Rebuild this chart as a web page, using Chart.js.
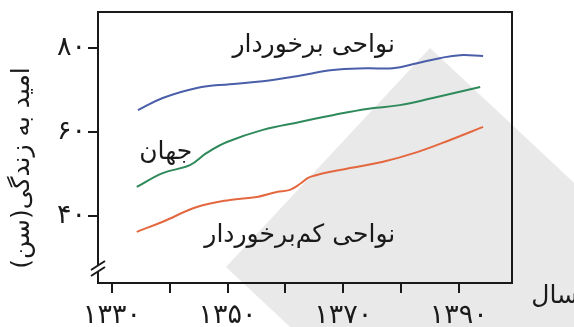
<!DOCTYPE html>
<html><head><meta charset="utf-8">
<script src="https://cdn.jsdelivr.net/npm/chart.js@4/dist/chart.umd.min.js"></script>
<style>html,body{margin:0;padding:0;background:#fff;}#wrap{width:574px;height:327px;}</style>
</head><body><div id="wrap"><canvas id="c" width="574" height="327"></canvas></div>
<script>
// ---- data ----
const developedYears  = [1334.5,1338.8,1344.7,1350.4,1356.1,1362.0,1368.2,1374.1,1378.6,1382.8,1386.7,1390.2,1394.2];
const developedValues = [65.2,68.1,70.5,71.4,72.1,73.3,74.8,75.2,75.2,76.4,77.6,78.3,78.1];
const worldYears  = [1334.3,1338.8,1343.5,1346.4,1349.9,1356.1,1362.5,1368.2,1374.1,1379.8,1385.5,1393.7];
const worldValues = [46.9,50.2,52.1,55.0,57.6,60.5,62.4,64.0,65.5,66.4,68.1,70.7];
const lessYears  = [1334.3,1338.8,1344.7,1350.4,1355.1,1358.5,1360.8,1362.5,1364.3,1371.2,1376.9,1382.8,1388.5,1394.2];
const lessValues = [36.2,38.6,42.1,43.8,44.5,45.7,46.2,47.6,49.3,51.4,52.9,55.2,58.1,61.2];
const seriesNames = ['نواحی برخوردار','جهان','نواحی کم\u200cبرخوردار'];
const xTickValues = [1330,1340,1350,1360,1370,1380,1390];
const xTickLabels = {1330:'۱۳۳۰',1350:'۱۳۵۰',1370:'۱۳۷۰',1390:'۱۳۹۰'};
const yTickValues = [40,60,80];
const yTickLabels = {40:'۴۰',60:'۶۰',80:'۸۰'};
const yTitle = 'امید به زندگی(سن)';
const xTitle = 'سال';

// ---- styling ----
const FONT = "'DejaVu Sans', sans-serif";
const colors = ['#4a5ea9','#2f8a5b','#e4683f'];
const labelAnchors = [[1364.9,80.7],[1339.3,55.2],[1362.5,35.4]];

const pts = (xs, ys) => xs.map((x,i)=>({x, y: ys[i]}));

const decor = {
  id:'decor',
  beforeDraw(chart){
    const ctx = chart.ctx;
    ctx.save();
    ctx.fillStyle = '#fff';
    ctx.fillRect(0,0,chart.width,chart.height);
    ctx.fillStyle = '#e9e9e9';
    ctx.beginPath();
    ctx.moveTo(430,48);
    ctx.lineTo(649,253);
    ctx.lineTo(445,472);
    ctx.lineTo(226,267);
    ctx.closePath();
    ctx.fill();
    ctx.restore();
  },
  afterDraw(chart){
    const ctx = chart.ctx, a = chart.chartArea;
    const xs = chart.scales.x, ys = chart.scales.y;
    ctx.save();
    ctx.strokeStyle = '#1a1a1a';
    ctx.lineWidth = 2;
    ctx.strokeRect(a.left, a.top, a.right - a.left, a.bottom - a.top);
    const by = a.bottom - 16;
    ctx.fillStyle = '#fff';
    ctx.beginPath();
    ctx.moveTo(a.left-7, by+3); ctx.lineTo(a.left+7, by-6);
    ctx.lineTo(a.left+7, by); ctx.lineTo(a.left-7, by+9);
    ctx.closePath(); ctx.fill();
    ctx.beginPath();
    ctx.moveTo(a.left-7, by+3); ctx.lineTo(a.left+7, by-6);
    ctx.moveTo(a.left-7, by+9); ctx.lineTo(a.left+7, by);
    ctx.stroke();
    ctx.fillStyle = '#1a1a1a';
    ctx.font = '25px ' + FONT;
    ctx.textAlign = 'center';
    ctx.textBaseline = 'middle';
    seriesNames.forEach((n,i)=>{
      ctx.fillText(n, xs.getPixelForValue(labelAnchors[i][0]), ys.getPixelForValue(labelAnchors[i][1]));
    });
    ctx.font = '25px ' + FONT;
    ctx.textAlign = 'right';
    ctx.fillText(xTitle, 578, 296);
    ctx.translate(22, 168);
    ctx.rotate(-Math.PI/2);
    ctx.textAlign = 'center';
    ctx.fillText(yTitle, 0, 0);
    ctx.restore();
  }
};

new Chart(document.getElementById('c'), {
  type:'line',
  data:{
    datasets:[
      {label:seriesNames[0], data:pts(developedYears,developedValues), borderColor:colors[0]},
      {label:seriesNames[1], data:pts(worldYears,worldValues), borderColor:colors[1]},
      {label:seriesNames[2], data:pts(lessYears,lessValues), borderColor:colors[2]}
    ].map(d=>Object.assign(d,{borderWidth:2, pointRadius:0, fill:false, tension:0.4}))
  },
  options:{
    responsive:false, animation:false, devicePixelRatio:1,
    layout:{padding:{left:0, top:12, right:62, bottom:0}},
    plugins:{legend:{display:false}, tooltip:{enabled:false}},
    scales:{
      x:{
        type:'linear', min:1327.6, max:1399.2,
        afterBuildTicks(s){ s.ticks = xTickValues.map(v=>({value:v})); },
        afterFit(s){ s.height = 44; s.paddingLeft = 0; s.paddingRight = 0; },
        ticks:{ callback:v=>xTickLabels[v]||'', autoSkip:false, maxRotation:0, padding:7,
          color:'#1a1a1a', font:{family:FONT, size:27} },
        grid:{ drawOnChartArea:false, drawTicks:true, tickLength:10, color:'#1a1a1a', lineWidth:2 },
        border:{display:false}
      },
      y:{
        type:'linear', min:24, max:88.6,
        afterBuildTicks(s){ s.ticks = yTickValues.map(v=>({value:v})); },
        afterFit(s){ s.width = 98; s.paddingTop = 0; s.paddingBottom = 0; },
        ticks:{ callback:v=>yTickLabels[v]||'', padding:2, color:'#1a1a1a', font:{family:FONT, size:27} },
        grid:{ drawOnChartArea:false, drawTicks:true, tickLength:10, color:'#1a1a1a', lineWidth:2 },
        border:{display:false}
      }
    }
  },
  plugins:[decor]
});
</script></body></html>
